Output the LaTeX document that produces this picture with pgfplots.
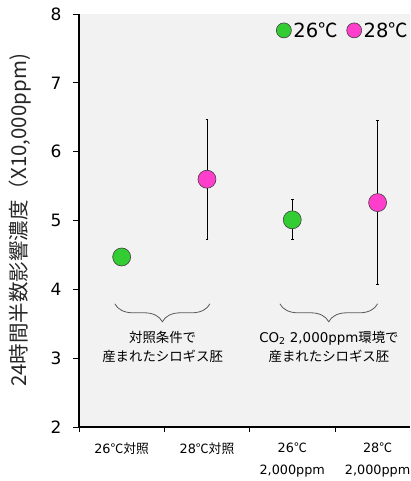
\documentclass[border=0pt]{standalone}
\usepackage{pgfplots}
\pgfplotsset{compat=1.18}
\usepackage{fontspec}
\setmainfont{DejaVu Sans}
\newfontfamily\jp{Noto Sans CJK JP}
\usetikzlibrary{decorations.pathreplacing}
\definecolor{bg}{HTML}{F2F2F2}
\definecolor{green26}{HTML}{33CC33}
\definecolor{pink28}{HTML}{FF3FCC}
\newcommand{\celsius}{{\jp ℃}}
\begin{document}
\begin{tikzpicture}[x=1pt,y=1pt]
\useasboundingbox (0,0) rectangle (410,481);
\begin{axis}[
  at={(79pt,54pt)}, anchor=south west,
  scale only axis, width=331pt, height=413pt,
  xmin=-0.5, xmax=3.38, ymin=2, ymax=8,
  clip=false,
  axis background/.style={fill=bg},
  axis x line*=bottom, axis y line*=left,
  axis line style={line width=1.6pt, -},
  ytick={2,3,...,8},
  xtick={0,1,2,3},
  xticklabels={{26\celsius{\jp 対照}}, {28\celsius{\jp 対照}}, {26\celsius\\2,000ppm}, {28\celsius\\2,000ppm}},
  major x tick style={draw=none},
  minor xtick={-0.5,0.5,1.5,2.5},
  minor x tick style={black, line width=0.8pt},
  minor tick length=5pt,
  y tick style={black, line width=0.8pt},
  major tick length=6pt,
  tick align=outside,
  /pgf/number format/assume math mode=true,
  yticklabel style={font=\fontsize{17}{20}\selectfont, xshift=-8pt},
  xticklabel style={font=\fontsize{12.8}{22.5}\selectfont, align=center, yshift=-6pt},
  ylabel={{\jp 24時間半数影響濃度（X10,000ppm)}},
  ylabel style={at={(axis description cs:-0.178,0.5)}, anchor=center, font=\fontsize{20.5}{24}\selectfont, text=black!85},
  legend style={at={(axis description cs:1.0,0.985)}, anchor=north east, draw=none, fill=none,
    font=\fontsize{19.5}{23}\selectfont, inner sep=0pt, outer sep=0pt,
    /tikz/every even column/.append style={column sep=7pt}},
  legend columns=2,
  legend cell align=left,
]
% error bars first, so the markers sit on top
\addplot[forget plot, draw=none, black, line width=0.9pt,
  error bars/.cd, y dir=both, y explicit,
  error bar style={black, line width=0.9pt},
  error mark options={rotate=90, mark size=1.3pt, line width=0.9pt}]
  coordinates {
    (1,5.60) +- (0,0.87)
    (2,5.01) +- (0,0.29)
    (3,5.26) +- (0,1.19)
  };
% group means
\addplot[forget plot, only marks, mark=*, mark size=9pt,
  mark options={fill=green26, draw=black!75, line width=0.6pt}]
  coordinates {(0,4.47) (2,5.01)};
\addplot[forget plot, only marks, mark=*, mark size=9pt,
  mark options={fill=pink28, draw=black!75, line width=0.6pt}]
  coordinates {(1,5.60) (3,5.26)};
\addlegendimage{only marks, mark=*, mark size=7.5pt, mark options={fill=green26, draw=black!75, line width=0.6pt}}
\addlegendentry{26\celsius}
\addlegendimage{only marks, mark=*, mark size=7.5pt, mark options={fill=pink28, draw=black!75, line width=0.6pt}}
\addlegendentry{28\celsius}
% group braces and captions
\draw[decorate, decoration={brace, mirror, amplitude=18pt, aspect=0.5}, line width=0.8pt, black!65]
  (axis cs:-0.08,3.79) -- (axis cs:1.035,3.79);
\draw[decorate, decoration={brace, mirror, amplitude=18pt, aspect=0.5}, line width=0.8pt, black!65]
  (axis cs:1.855,3.79) -- (axis cs:3.0,3.79);
\node[align=center, font=\fontsize{13.4}{19}\selectfont, anchor=north] at (axis cs:0.48,3.44)
  {{\jp 対照条件で}\\{\jp 産まれたシロギス胚}};
\node[align=center, font=\fontsize{13.4}{19}\selectfont, anchor=north] at (axis cs:2.43,3.44)
  {CO\textsubscript{2} 2,000ppm{\jp 環境で}\\{\jp 産まれたシロギス胚}};
\end{axis}
\end{tikzpicture}
\end{document}
